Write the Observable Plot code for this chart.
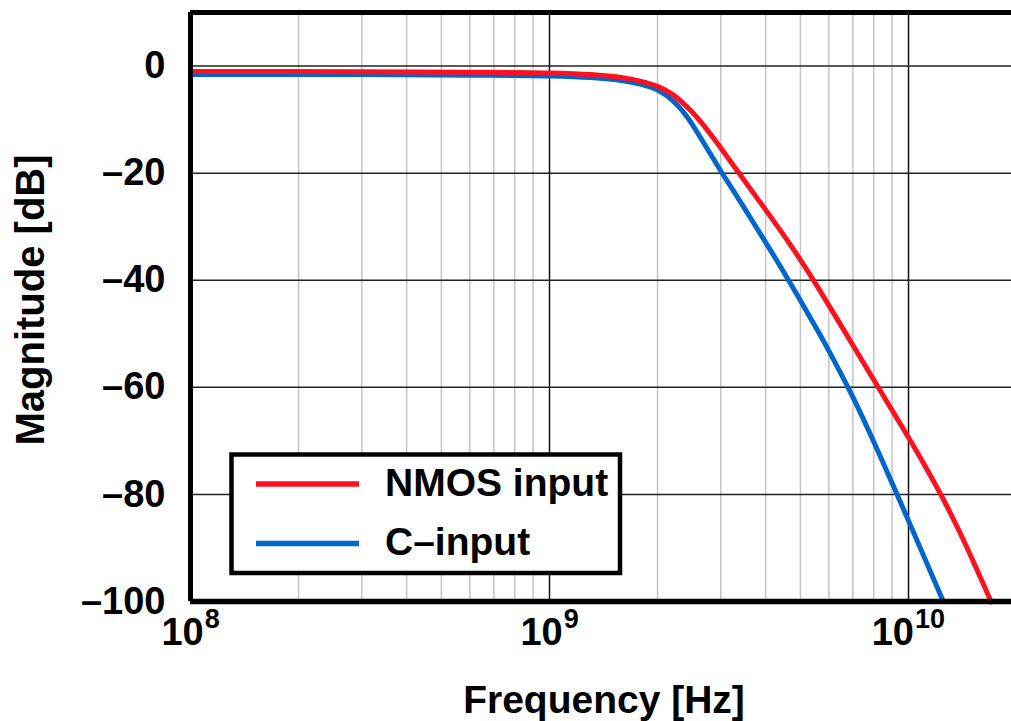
<!DOCTYPE html>
<html><head><meta charset="utf-8">
<script src="https://cdn.jsdelivr.net/npm/d3@7"></script>
<script src="https://cdn.jsdelivr.net/npm/@observablehq/plot@0.6"></script>
<style>body{margin:0;background:#fff;font-family:"Liberation Sans",Arial,sans-serif}</style>
</head><body><div id="chart"></div>
<script>
// NMOS input (red)
const freqNMOS = [1e8, 3e8, 6e8, 1e9, 1.3e9, 1.6e9, 1.8e9, 2e9, 2.2e9, 2.4e9, 2.6e9, 2.8e9, 3e9, 3.3e9, 3.7e9, 4e9, 4.5e9, 5e9, 5.5e9, 6e9, 7e9, 8e9, 9e9, 1e10, 1.1e10, 1.25e10, 1.4e10, 1.55e10, 1.7e10];
const magNMOS  = [-1.0, -1.05, -1.15, -1.3, -1.6, -2.2, -2.85, -3.8, -5.3, -7.45, -9.9, -12.6, -15.3, -19.12, -23.74, -26.86, -31.68, -36.19, -40.54, -44.69, -52.13, -58.58, -64.28, -69.36, -74.13, -80.9, -87.54, -94.02, -100.1];
// C-input (blue)
const freqC = [1e8, 3e8, 6e8, 1e9, 1.3e9, 1.6e9, 1.8e9, 2e9, 2.2e9, 2.4e9, 2.6e9, 2.8e9, 3e9, 3.3e9, 3.7e9, 4e9, 4.5e9, 5e9, 5.5e9, 6e9, 7e9, 8e9, 9e9, 1e10, 1.1e10, 1.25e10];
const magC  = [-1.6, -1.6, -1.7, -1.85, -2.15, -2.75, -3.43, -4.5, -6.42, -9.21, -12.75, -16.3, -19.6, -23.94, -29.27, -32.92, -38.57, -43.79, -48.63, -53.19, -61.83, -70.15, -77.88, -84.9, -91.34, -100.0];

const seriesNames = ["NMOS input", "C\u2013input"];
const seriesColors = ["#ff1020", "#0066cc"];
const yTicks = [0, -20, -40, -60, -80, -100];
const yGrid = [0, -20, -40, -60, -80];
const xMajor = [1e8, 1e9, 1e10];
const xExponents = ["8", "9", "10"];
const xMajorGrid = [1e9, 1e10];
const xMinor = [2e8, 3e8, 4e8, 5e8, 6e8, 7e8, 8e8, 9e8, 2e9, 3e9, 4e9, 5e9, 6e9, 7e9, 8e9, 9e9];
const xDomain = [1e8, 1.936e10];
const yDomain = [-100, 10];

const nmos = freqNMOS.map((f, i) => ({f, m: magNMOS[i]}));
const cin = freqC.map((f, i) => ({f, m: magC[i]}));

const FONT = '"Liberation Sans", Arial, Helvetica, sans-serif';

// tick labels 10^n: base and exponent
const expMarks = xMajor.flatMap((t, i) => {
  const e = xExponents[i];
  const baseW = 42, expW = 15.5 * e.length;
  const total = baseW + expW;
  const endBase = -total / 2 + baseW;
  return [
    Plot.text([t], {x: d => d, frameAnchor: "bottom", dy: 43, text: () => "10", textAnchor: "end", dx: endBase, fontSize: 38, fontWeight: "bold", fill: "black"}),
    Plot.text([t], {x: d => d, frameAnchor: "bottom", dy: 26, text: () => e, textAnchor: "start", dx: endBase + 1, fontSize: 27, fontWeight: "bold", fill: "black"})
  ];
});

const svg = Plot.plot({
  width: 1011, height: 721,
  marginLeft: 190, marginRight: 0, marginTop: 12, marginBottom: 120,
  x: {type: "log", domain: xDomain, axis: null},
  y: {domain: yDomain},
  style: {fontFamily: FONT, background: "white", overflow: "visible", color: "black"},
  marks: [
    Plot.ruleX(xMinor, {stroke: "#c4c4c4", strokeWidth: 1.5}),
    Plot.ruleX(xMajorGrid, {stroke: "#111", strokeWidth: 1.5}),
    Plot.ruleY(yGrid, {stroke: "#222", strokeWidth: 1.5}),
    Plot.line(cin, {x: "f", y: "m", stroke: seriesColors[1], strokeWidth: 5, curve: "catmull-rom"}),
    Plot.line(nmos, {x: "f", y: "m", stroke: seriesColors[0], strokeWidth: 5, curve: "catmull-rom"}),
    Plot.ruleY([yDomain[0]], {stroke: "black", strokeWidth: 5.5}),
    Plot.ruleY([yDomain[1]], {stroke: "black", strokeWidth: 5}),
    Plot.ruleX([xDomain[0]], {stroke: "black", strokeWidth: 5, y1: yDomain[0], y2: yDomain[1]}),
    Plot.axisY(yTicks, {tickSize: 0, tickPadding: 25, fontSize: 38, fontWeight: "bold", fill: "black", label: null,
      tickFormat: d => d === 0 ? "0" : "\u2013" + (-d)}),
    ...expMarks
  ]
});

const s = d3.select(svg);
s.append("text").attr("x", 604).attr("y", 713).attr("text-anchor", "middle")
  .attr("font-family", FONT).attr("font-size", 39).attr("font-weight", "bold").attr("fill", "black")
  .text("Frequency [Hz]");
s.append("text").attr("transform", "translate(44,300) rotate(-90)").attr("text-anchor", "middle")
  .attr("font-family", FONT).attr("font-size", 40).attr("font-weight", "bold").attr("fill", "black")
  .text("Magnitude [dB]");

const lg = s.append("g");
lg.append("rect").attr("x", 231.5).attr("y", 454.5).attr("width", 388.5).attr("height", 118.5)
  .attr("fill", "white").attr("stroke", "black").attr("stroke-width", 4.5);
const rowY = [484, 543.5];
const textY = [496, 555];
seriesNames.forEach((name, i) => {
  lg.append("line").attr("x1", 256).attr("x2", 359).attr("y1", rowY[i]).attr("y2", rowY[i])
    .attr("stroke", seriesColors[i]).attr("stroke-width", 5.5);
  lg.append("text").attr("x", 385).attr("y", textY[i]).attr("text-anchor", "start").attr("font-family", FONT)
    .attr("font-size", 39).attr("font-weight", "bold").attr("fill", "black").text(name);
});

document.getElementById("chart").appendChild(svg);
</script>
</body></html>
